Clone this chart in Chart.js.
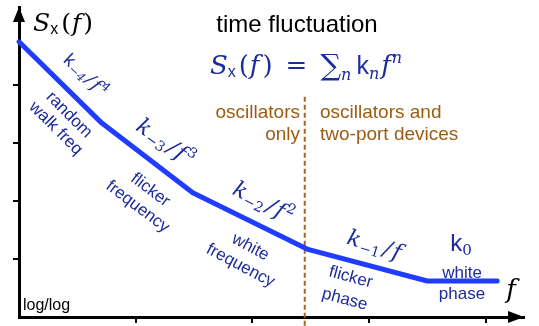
<!DOCTYPE html>
<html>
<head>
<meta charset="utf-8">
<script src="https://cdn.jsdelivr.net/npm/chart.js@4.4.0/dist/chart.umd.min.js"></script>
<style>
  html, body { margin: 0; padding: 0; background: #fff; }
  #wrap { width: 539px; height: 326px; }
</style>
</head>
<body>
<div id="wrap"><canvas id="grafico"></canvas></div>
<script>
// log f (arbitrary units) at the slope breaks, and log S at those points
const logF = [0, 0.71, 1.49, 2.47, 3.50, 4.10];
const logS = [4.74, 3.34, 2.14, 1.17, 0.62, 0.62];

// boundary between "oscillators only" and "two-port devices"
const limiteF = [2.45, 2.45];
const limiteS = [-0.15, 3.81];

const xTicks = [1, 2, 3, 4];
const yTicks = [1, 2, 3, 4];

const azul = '#1f3cff';
const azulTexto = '#1c2c9c';
const marrom = '#9b5c12';

const serif = '"DejaVu Serif", "Liberation Serif", serif';
const sans = '"Liberation Sans", Arial, sans-serif';

// draws a run of differently styled pieces [text, font, dy, gapBefore] around (x, y)
function rico(ctx, partes, x, y, ang, cor, alinhar) {
    ctx.save();
    ctx.translate(x, y);
    ctx.rotate(ang * Math.PI / 180);
    ctx.fillStyle = cor;
    ctx.textBaseline = 'alphabetic';
    let w = 0;
    partes.forEach(p => { ctx.font = p[1]; w += ctx.measureText(p[0]).width + (p[3] || 0); });
    let cx = alinhar === 'left' ? 0 : alinhar === 'right' ? -w : -w / 2;
    partes.forEach(p => {
        ctx.font = p[1];
        cx += p[3] || 0;
        ctx.fillText(p[0], cx, 6 + (p[2] || 0));
        cx += ctx.measureText(p[0]).width;
    });
    ctx.restore();
}

function linhas(ctx, textos, x, y, ang, lh, font, cor) {
    const a = ang * Math.PI / 180;
    textos.forEach((t, i) => {
        rico(ctx, [[t, font]], x - i * lh * Math.sin(a), y + i * lh * Math.cos(a), ang, cor);
    });
}

function termo(n, sup) {
    const p = [['k', 'italic 22px ' + serif], ['\u2212' + n, '14px ' + serif, 4, 1],
        ['/', 'italic 22px ' + serif, 0, 3], ['f', 'italic 22px ' + serif, 0, 2]];
    if (sup) p.push([String(n), '14px ' + serif, -9, 1]);
    return p;
}

const setas = {
    id: 'setas',
    afterDatasetsDraw(chart) {
        const { ctx, chartArea: a } = chart;
        ctx.save();
        ctx.fillStyle = '#000';
        ctx.beginPath();
        ctx.moveTo(a.left, a.top);
        ctx.lineTo(a.left - 6, a.top + 15);
        ctx.lineTo(a.left + 6, a.top + 15);
        ctx.closePath();
        ctx.fill();
        ctx.beginPath();
        ctx.moveTo(a.right, a.bottom);
        ctx.lineTo(a.right - 16, a.bottom - 6);
        ctx.lineTo(a.right - 16, a.bottom + 6);
        ctx.closePath();
        ctx.fill();
        ctx.restore();
    }
};

const textos = {
    id: 'textos',
    afterDraw(chart) {
        const ctx = chart.ctx;

        // axis titles
        rico(ctx, [['S', 'italic 25px ' + serif], ['x', '16px ' + sans, 3], ['(', '25px ' + serif, 0, 3],
            ['f', 'italic 25px ' + serif, 0, 1], [')', '25px ' + serif, 0, 2]], 33, 25, 0, '#000', 'left');
        rico(ctx, [['f', 'italic 26px ' + serif]], 511, 292, 0, '#000');
        rico(ctx, [['log/log', '16px ' + sans]], 23, 304, 0, '#000', 'left');

        // title and formula
        rico(ctx, [['time fluctuation', '24px ' + sans]], 297, 26, 0, '#000');
        rico(ctx, [['S', 'italic 26px ' + serif], ['x', '16px ' + sans, 3], ['(', '26px ' + serif, 0, 3],
            ['f', 'italic 26px ' + serif, 0, 1], [')', '26px ' + serif, 0, 3], ['=', '26px ' + serif, 0, 13],
            ['\u2211', '29px ' + serif, 1, 13], ['n', 'italic 16px ' + serif, 6], ['k', '25px ' + sans, 0, 5],
            ['n', 'italic 16px ' + serif, 5], ['f', 'italic 26px ' + serif, 0, 2],
            ['n', 'italic 16px ' + serif, -11, 1]], 306, 68, 0, azulTexto);

        // region labels
        rico(ctx, [['oscillators', '19px ' + sans]], 300, 112, 0, marrom, 'right');
        rico(ctx, [['only', '19px ' + sans]], 300, 134, 0, marrom, 'right');
        rico(ctx, [['oscillators and', '19px ' + sans]], 320, 112, 0, marrom, 'left');
        rico(ctx, [['two-port devices', '19px ' + sans]], 320, 134, 0, marrom, 'left');

        // power-law terms along the line
        rico(ctx, [['k', '18px ' + sans], ['\u22124', 'italic 12px ' + serif, 3, 1], ['/', 'italic 18px ' + serif, 0, 2],
            ['f', 'italic 18px ' + serif, 0, 2], ['4', '12px ' + serif, -7, 1]], 86, 75, 43, azulTexto);
        rico(ctx, termo(3, true), 165, 143, 35, azulTexto);
        rico(ctx, termo(2, true), 263, 203, 27, azulTexto);
        rico(ctx, termo(1, false), 374, 246, 17, azulTexto);
        rico(ctx, [['k', '24px ' + sans], ['0', '15px ' + serif, 4]], 461, 245, 0, azulTexto);

        // noise type names
        linhas(ctx, ['random', 'walk freq'], 70, 114, 45, 19, '17px ' + sans, azulTexto);
        linhas(ctx, ['flicker', 'frequency'], 151, 189, 37, 21, '17px ' + sans, azulTexto);
        linhas(ctx, ['white', 'frequency'], 251, 246, 28, 21, '17px ' + sans, azulTexto);
        linhas(ctx, ['flicker', 'phase'], 351, 276, 15, 23, '17px ' + sans, azulTexto);
        linhas(ctx, ['white', 'phase'], 462, 272, 0, 21, '17px ' + sans, azulTexto);
    }
};

new Chart(document.getElementById('grafico'), {
    type: 'line',
    data: {
        datasets: [{
            data: logF.map((f, i) => ({ x: f, y: logS[i] })),
            borderColor: azul,
            borderWidth: 5,
            borderCapStyle: 'round',
            borderJoinStyle: 'round',
            pointRadius: 0,
            tension: 0,
            clip: false
        }, {
            data: limiteF.map((f, i) => ({ x: f, y: limiteS[i] })),
            borderColor: '#a8661e',
            borderWidth: 2,
            borderDash: [5, 3],
            pointRadius: 0,
            clip: false
        }]
    },
    options: {
        responsive: true,
        maintainAspectRatio: false,
        animation: false,
        layout: { padding: { top: 7, right: 15, bottom: 3, left: 13 } },
        plugins: { legend: { display: false }, tooltip: { enabled: false } },
        scales: {
            x: {
                type: 'linear', min: 0, max: 4.33,
                afterBuildTicks: s => { s.ticks = xTicks.map(v => ({ value: v })); },
                ticks: { display: false },
                grid: { drawOnChartArea: false, tickLength: 6, color: '#000', lineWidth: 2 },
                border: { display: true, color: '#000', width: 3 }
            },
            y: {
                type: 'linear', min: 0, max: 5.34,
                afterBuildTicks: s => { s.ticks = yTicks.map(v => ({ value: v })); },
                ticks: { display: false },
                grid: { drawOnChartArea: false, tickLength: 6, color: '#000', lineWidth: 2 },
                border: { display: true, color: '#000', width: 3 }
            }
        }
    },
    plugins: [setas, textos]
});
</script>
</body>
</html>
